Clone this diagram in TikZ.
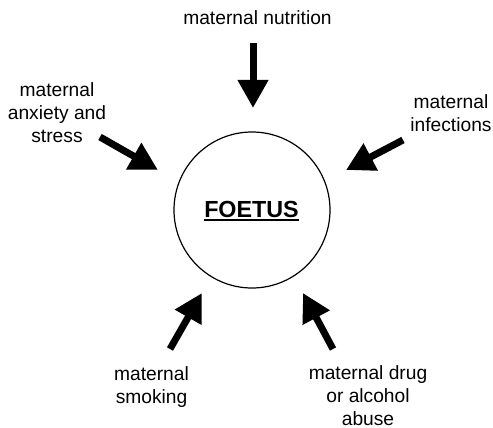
\documentclass[tikz,border=0pt]{standalone}
\usepackage{fontspec}
\setmainfont{Liberation Sans}
\usetikzlibrary{arrows.meta}
\begin{document}
\begin{tikzpicture}[x=1pt,y=-1pt,
  lbl/.style={align=center,anchor=base,inner sep=0pt,font=\fontsize{19.2}{23}\selectfont},
  bigarrow/.style={line width=7pt,-{Triangle[length=28pt,width=29pt]}},
  foetusc/.style={circle,draw,line width=1.2pt,minimum size=156pt,inner sep=0pt}]
\useasboundingbox (0,0) rectangle (493,428);
% centre
\node[foetusc] (fc) at (252,210) {};
\node[anchor=base,inner sep=0pt,font=\fontsize{23.3}{28}\selectfont\bfseries] (ft) at (251.5,217) {FOETUS};
\draw[line width=1.8pt] ([yshift=-2.6pt]ft.base west) -- ([yshift=-2.6pt]ft.base east);
% labels (anchor = baseline of last line)
\node[lbl] (nut) at (257.5,25) {maternal nutrition};
\node[lbl] (anx) at (57,142.5) {maternal\\anxiety and\\stress};
\node[lbl] (inf) at (451,131.5) {maternal\\infections};
\node[lbl] (smk) at (151.5,403) {maternal\\smoking};
\node[lbl] (drg) at (368,425) {maternal drug\\or alcohol\\abuse};
% arrow ends
\coordinate (t1) at (253,43);  \coordinate (h1) at (253,108);
\coordinate (t2) at (100,137); \coordinate (h2) at (158,170);
\coordinate (t3) at (403,140); \coordinate (h3) at (346,170);
\coordinate (t4) at (170,349); \coordinate (h4) at (202,293);
\coordinate (t5) at (333,349); \coordinate (h5) at (303,293);
\draw[bigarrow] (t1) -- (h1);
\draw[bigarrow] (t2) -- (h2);
\draw[bigarrow] (t3) -- (h3);
\draw[bigarrow] (t4) -- (h4);
\draw[bigarrow] (t5) -- (h5);
\end{tikzpicture}
\end{document}
